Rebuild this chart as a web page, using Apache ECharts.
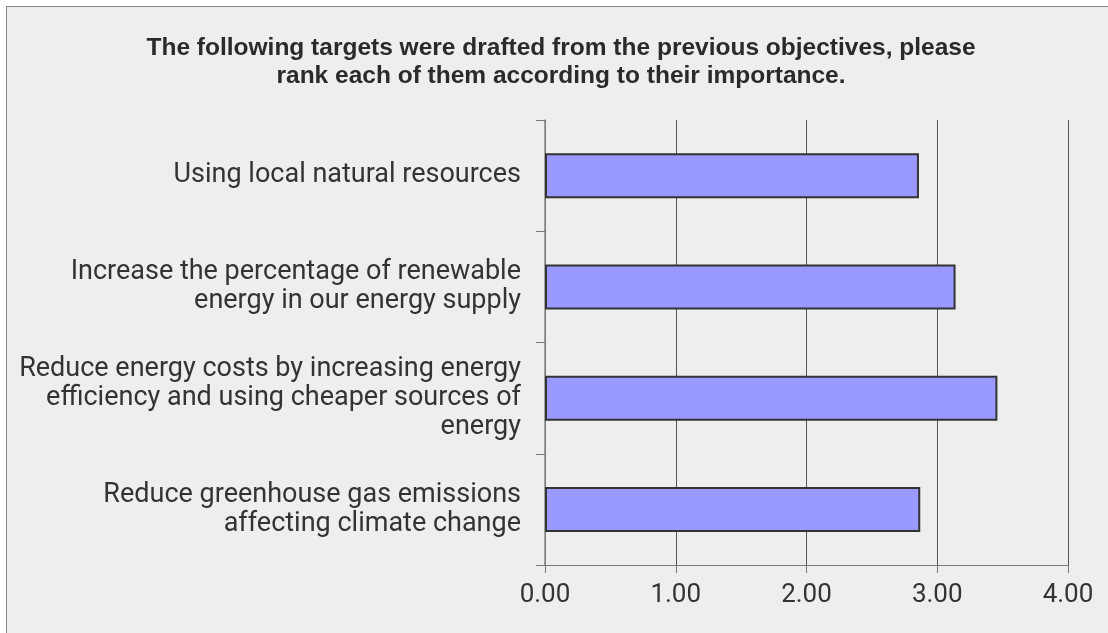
<!DOCTYPE html>
<html>
<head>
<meta charset="utf-8">
<script src="https://cdn.jsdelivr.net/npm/echarts@6/dist/echarts.min.js"></script>
<style>
html,body{margin:0;padding:0;background:#ffffff;overflow:hidden;}
#frame{position:absolute;left:6px;top:6px;width:1110px;height:640px;border:1.5px solid #8a8a8a;background:#eeeeee;box-sizing:border-box;}
#chart{position:absolute;left:0;top:0;width:1108px;height:633px;}
</style>
</head>
<body>
<div id="frame"></div>
<div id="chart"></div>
<script>
const titleText = "The following targets were drafted from the previous objectives, please\nrank each of them according to their importance.";
const categories = [
  "Reduce greenhouse gas emissions\naffecting climate change",
  "Reduce energy costs by increasing energy\nefficiency and using cheaper sources of\nenergy",
  "Increase the percentage of renewable\nenergy in our energy supply",
  "Using local natural resources"
];
const values = [2.87, 3.46, 3.14, 2.86];
const xTicks = { min: 0, max: 4, interval: 1 };

const chart = echarts.init(document.getElementById('chart'), null, {renderer: 'canvas'});
chart.setOption({
  backgroundColor: 'transparent',
  animation: false,
  title: {
    text: titleText,
    left: 556,
    textAlign: 'center',
    top: 29,
    textStyle: {
      fontFamily: '"Liberation Sans", Arial, sans-serif',
      fontSize: 24.5,
      fontWeight: 'bold',
      color: '#2a2a2a',
      lineHeight: 28
    }
  },
  grid: { left: 545, right: 40, top: 120, bottom: 68, containLabel: false },
  xAxis: {
    type: 'value',
    min: xTicks.min, max: xTicks.max, interval: xTicks.interval,
    axisLine: { show: true, lineStyle: { color: '#777777', width: 1 } },
    axisTick: { show: true, length: 8, lineStyle: { color: '#777777' } },
    axisLabel: {
      formatter: v => v.toFixed(2),
      fontFamily: 'Roboto, "Noto Sans", sans-serif',
      fontSize: 26, color: '#333333', margin: 17
    },
    splitLine: { show: true, lineStyle: { color: '#555555', width: 1 } }
  },
  yAxis: {
    type: 'category',
    data: categories,
    axisLine: { show: true, lineStyle: { color: '#888888', width: 1.5 } },
    axisTick: { show: true, length: 9, lineStyle: { color: '#777777' } },
    axisLabel: {
      fontFamily: 'Roboto, "Noto Sans", sans-serif',
      fontSize: 27, color: '#333333', margin: 24, lineHeight: 29, align: 'right',
      padding: [5, 0, 0, 0]
    }
  },
  series: [{
    type: 'bar',
    data: values,
    barWidth: 45,
    itemStyle: { color: '#9999ff', borderColor: '#333333', borderWidth: 2 }
  }]
});
</script>
</body>
</html>
